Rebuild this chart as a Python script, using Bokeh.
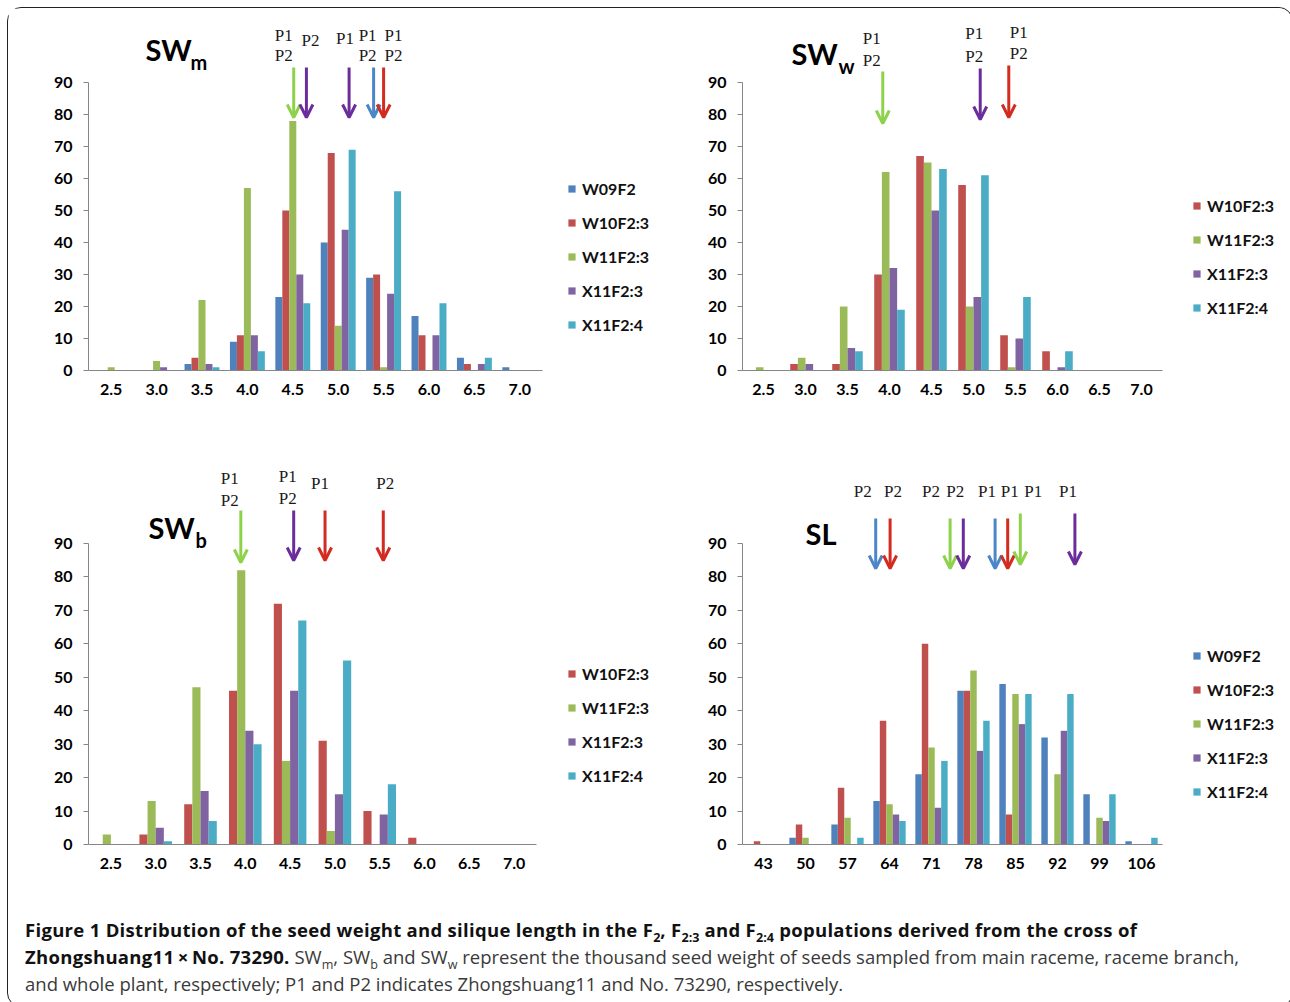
import numpy as np
from bokeh.plotting import figure
from bokeh.models import (Range1d, FixedTicker, Legend, LegendItem, Arrow, OpenHead,
                          Div, Label, ColumnDataSource)
from bokeh.layouts import row, column
from bokeh.embed import file_html
from bokeh.resources import INLINE
from bokeh.core.properties import value

# ------------------------------------------------------------------ data
weight_bins = ["2.5", "3.0", "3.5", "4.0", "4.5", "5.0", "5.5", "6.0", "6.5", "7.0"]
length_bins = ["43", "50", "57", "64", "71", "78", "85", "92", "99", "106"]

# SWm (main raceme)
swm_W09F2 = [0, 0, 2, 9, 23, 40, 29, 17, 4, 1]
swm_W10F23 = [0, 0, 4, 11, 50, 68, 30, 11, 2, 0]
swm_W11F23 = [1, 3, 22, 57, 78, 14, 1, 0, 0, 0]
swm_X11F23 = [0, 1, 2, 11, 30, 44, 24, 11, 2, 0]
swm_X11F24 = [0, 0, 1, 6, 21, 69, 56, 21, 4, 0]

# SWw (whole plant)
sww_W10F23 = [0, 2, 2, 30, 67, 58, 11, 6, 0, 0]
sww_W11F23 = [1, 4, 20, 62, 65, 20, 1, 0, 0, 0]
sww_X11F23 = [0, 2, 7, 32, 50, 23, 10, 1, 0, 0]
sww_X11F24 = [0, 0, 6, 19, 63, 61, 23, 6, 0, 0]

# SWb (raceme branch)
swb_W10F23 = [0, 3, 12, 46, 72, 31, 10, 2, 0, 0]
swb_W11F23 = [3, 13, 47, 82, 25, 4, 0, 0, 0, 0]
swb_X11F23 = [0, 5, 16, 34, 46, 15, 9, 0, 0, 0]
swb_X11F24 = [0, 1, 7, 30, 67, 55, 18, 0, 0, 0]

# SL (silique length)
sl_W09F2 = [0, 2, 6, 13, 21, 46, 48, 32, 15, 1]
sl_W10F23 = [1, 6, 17, 37, 60, 46, 9, 0, 0, 0]
sl_W11F23 = [0, 2, 8, 12, 29, 52, 45, 21, 8, 0]
sl_X11F23 = [0, 0, 0, 9, 11, 28, 36, 34, 7, 0]
sl_X11F24 = [0, 0, 2, 7, 25, 37, 45, 45, 15, 2]

# parental values (arrows): population, value, label
swm_parents_pop = ["W11F2:3", "X11F2:3", "X11F2:3", "W09F2", "W10F2:3"]
swm_parents_val = [4.51, 4.65, 5.12, 5.39, 5.50]
swm_parents_lab = ["P1\nP2", "P2", "P1", "P1\nP2", "P1\nP2"]

sww_parents_pop = ["W11F2:3", "X11F2:3", "W10F2:3"]
sww_parents_val = [3.92, 5.08, 5.42]
sww_parents_lab = ["P1\nP2", "P1\nP2", "P1\nP2"]

swb_parents_pop = ["W11F2:3", "X11F2:3", "W10F2:3", "W10F2:3"]
swb_parents_val = [3.95, 4.54, 4.89, 5.54]
swb_parents_lab = ["P1\nP2", "P1\nP2", "P1", "P2"]

sl_parents_pop = ["W09F2", "W10F2:3", "W11F2:3", "X11F2:3", "W09F2", "W10F2:3", "W11F2:3", "X11F2:3"]
sl_parents_val = [61.7, 64.1, 74.1, 76.3, 81.6, 83.7, 85.8, 94.9]
sl_parents_lab = ["P2", "P2", "P2", "P2", "P1", "P1", "P1", "P1"]

# ------------------------------------------------------------------ styles
BAR = {"W09F2": "#4F81BD", "W10F2:3": "#C0504D", "W11F2:3": "#9BBB59",
       "X11F2:3": "#8064A2", "X11F2:4": "#4BACC6"}
ARR = {"W09F2": "#4A86C8", "W10F2:3": "#D22B1F", "W11F2:3": "#8ED24C", "X11F2:3": "#6B2D9B"}
SANS = "Lato"
SERIF = "Liberation Serif"
AXIS_GRAY = "#868686"


def panel(cats, series, parents, geom, ytitle, xtitle, title, sub):
    fx, fy, fw, fh = geom["fig"]
    fl, fb = geom["frame_left"], geom["frame_bottom"]
    ncat = len(cats)
    pitch = geom["axis_w"] / ncat
    ppu = geom["px90"] / 90.0
    frame_w = fx + fw - fl
    frame_h = fb - fy
    p = figure(frame_width=frame_w, frame_height=frame_h,
               min_border_left=fl - fx, min_border_right=0, min_border_top=0,
               min_border_bottom=fy + fh - fb,
               x_range=Range1d(-0.5, -0.5 + frame_w / pitch),
               y_range=Range1d(0, frame_h / ppu),
               output_backend="svg", toolbar_location=None)

    def xd(px):
        return (px - fl) / pitch - 0.5

    def yd(py):
        return (fb - py) / ppu

    first = float(cats[0])
    step = float(cats[1]) - first

    def to_idx(v):
        return (v - first) / step

    # bars
    m = len(series)
    w = 1.0 / (m + 1.5)
    items = []
    for k, (name, vals) in enumerate(series):
        xs = np.arange(ncat) + (k - (m - 1) / 2.0) * w
        r = p.vbar(x=xs, top=vals, width=w, fill_color=BAR[name], line_color=None)
        items.append(LegendItem(label=name, renderers=[r]))

    lx, ly_last = geom["legend"]
    leg = Legend(items=items, location=(lx - fl, fb - (ly_last + 10)),
                 border_line_color=None, background_fill_alpha=0, padding=0, margin=0,
                 glyph_width=9, glyph_height=9, label_height=20, spacing=14,
                 label_standoff=6, label_text_font=SANS, label_text_font_style="bold",
                 label_text_font_size="16px", label_text_color="#111111")
    p.add_layout(leg)

    # parental arrows + labels
    pops, vals, labs = parents
    ann = geom["arrows"]
    lx_, ly_, lt_, lo_ = [], [], [], []
    for i, (pop, v, lab) in enumerate(zip(pops, vals, labs)):
        tail, tip, dx, lys = ann[i]
        col = ARR[pop]
        xi = to_idx(v)
        p.add_layout(Arrow(x_start=xi, y_start=yd(tail), x_end=xi, y_end=yd(tip),
                           line_color=col, line_width=3,
                           end=OpenHead(size=13, line_color=col, line_width=3)))
        for line, ly in zip(lab.split("\n"), lys):
            lx_.append(xi)
            ly_.append(yd(ly))
            lt_.append(line)
            lo_.append(dx)
    src = ColumnDataSource(dict(x=lx_, y=ly_, text=lt_, xo=lo_))
    p.text(x="x", y="y", text="text", x_offset="xo", source=src, text_align="center",
           text_baseline="middle", text_font=value(SERIF), text_font_size="17px",
           text_color="#1a1a1a")

    # panel title with subscript
    tx, ty = geom["title"]
    p.text(x=[xd(tx)], y=[yd(ty)], text=[title], text_font=value(SANS),
           text_font_style="bold", text_font_size="29px", text_baseline="middle",
           text_align="left", text_color="#000000")
    if sub:
        sx, sy = geom["sub"]
        p.text(x=[xd(sx)], y=[yd(sy)], text=[sub], text_font=value(SANS),
               text_font_style="bold", text_font_size="20px", text_baseline="middle",
               text_align="left", text_color="#000000")

    # axis titles
    (yx, yy), (xx, xy) = geom["ytitle"], geom["xtitle"]
    p.add_layout(Label(x=xd(yx), y=yd(yy), text=ytitle, angle=np.pi / 2,
                       text_align="center", text_baseline="middle", text_font=SANS,
                       text_font_style="bold", text_font_size="16px", text_color="#000000"))
    p.add_layout(Label(x=xd(xx), y=yd(xy), text=xtitle,
                       text_align="center", text_baseline="middle", text_font=SANS,
                       text_font_style="bold", text_font_size="16px", text_color="#000000"))

    # axes
    xa, ya = p.xaxis[0], p.yaxis[0]
    xa.ticker = FixedTicker(ticks=list(range(ncat)))
    xa.major_label_overrides = {i: c for i, c in enumerate(cats)}
    xa.bounds = (-0.5, ncat - 0.5)
    xa.major_tick_out = 0
    xa.major_tick_in = 0
    xa.major_tick_line_color = None
    xa.minor_tick_line_color = None
    xa.axis_line_color = AXIS_GRAY
    xa.major_label_standoff = 13
    ya.ticker = FixedTicker(ticks=list(range(0, 91, 10)))
    ya.bounds = (0, 90)
    ya.major_tick_out = 5
    ya.major_tick_in = 0
    ya.major_tick_line_color = AXIS_GRAY
    ya.minor_tick_line_color = None
    ya.axis_line_color = AXIS_GRAY
    ya.major_label_standoff = 11
    for ax in (xa, ya):
        ax.major_label_text_font = SANS
        ax.major_label_text_font_style = "bold"
        ax.major_label_text_font_size = "16px"
        ax.major_label_text_color = "#000000"
    p.grid.visible = False
    p.outline_line_color = None
    return p


p1 = panel(weight_bins,
           [("W09F2", swm_W09F2), ("W10F2:3", swm_W10F23), ("W11F2:3", swm_W11F23),
            ("X11F2:3", swm_X11F23), ("X11F2:4", swm_X11F24)],
           (swm_parents_pop, swm_parents_val, swm_parents_lab),
           dict(fig=(8, 8, 660, 447), frame_left=88, frame_bottom=370, axis_w=454, px90=288,
                legend=(567, 325),
                arrows=[(67, 117, -10, [35, 55]), (67, 117, 4, [40]), (67, 117, -4, [38]),
                        (67, 117, -6, [35, 55]), (67, 117, 10, [35, 55])],
                title=(145, 49), sub=(190, 61), ytitle=(38, 227), xtitle=(316, 422)),
           "No. of individuals/lines", "1000- seed weight (g)", "SW", "m")

p2 = panel(weight_bins,
           [("W10F2:3", sww_W10F23), ("W11F2:3", sww_W11F23),
            ("X11F2:3", sww_X11F23), ("X11F2:4", sww_X11F24)],
           (sww_parents_pop, sww_parents_val, sww_parents_lab),
           dict(fig=(668, 8, 614, 447), frame_left=742, frame_bottom=370, axis_w=420, px90=288,
                legend=(1192, 308),
                arrows=[(71, 123, -11, [38, 60]), (68, 119, -6, [33, 56]),
                        (65, 117, 10, [32, 53])],
                title=(791, 53), sub=(838, 65), ytitle=(692, 225), xtitle=(954, 422)),
           "No. of lines", "1000-seed weight (g)", "SW", "w")

p3 = panel(weight_bins,
           [("W10F2:3", swb_W10F23), ("W11F2:3", swb_W11F23),
            ("X11F2:3", swb_X11F23), ("X11F2:4", swb_X11F24)],
           (swb_parents_pop, swb_parents_val, swb_parents_lab),
           dict(fig=(8, 455, 660, 455), frame_left=88, frame_bottom=844, axis_w=448, px90=301,
                legend=(567, 776),
                arrows=[(510, 562, -11, [478, 500]), (510, 560, -6, [476, 498]),
                        (510, 560, -5, [483]), (510, 560, 2, [483])],
                title=(148, 527), sub=(195, 539), ytitle=(38, 693), xtitle=(313, 895)),
           "No. of lines", "1000-seed weight (g)", "SW", "b")

p4 = panel(length_bins,
           [("W09F2", sl_W09F2), ("W10F2:3", sl_W10F23), ("W11F2:3", sl_W11F23),
            ("X11F2:3", sl_X11F23), ("X11F2:4", sl_X11F24)],
           (sl_parents_pop, sl_parents_val, sl_parents_lab),
           dict(fig=(668, 455, 614, 455), frame_left=742, frame_bottom=844, axis_w=420, px90=301,
                legend=(1192, 792),
                arrows=[(518, 568, -13, [491]), (518, 568, 3, [491]), (518, 568, -19, [491]),
                        (518, 568, -8, [491]), (518, 568, -8, [491]), (518, 568, 2, [491]),
                        (513, 564, 13, [491]), (513, 564, -7, [491])],
                title=(805, 533), sub=None, ytitle=(692, 693), xtitle=(952, 895)),
           "No. of lines", "Silique length (mm)", "SL", None)

SUB = '<sub style="font-size:68%;line-height:0;letter-spacing:0">'
BOLD = '<b style="color:#111;letter-spacing:0.3px">'
caption_html = (
    '<div style="padding:1px 0 0 12px; white-space:nowrap; font-family:\'Open Sans\', sans-serif; '
    'font-size:18.5px; line-height:27px; color:#3a3a3a;">'
    + BOLD + 'Figure 1 Distribution of the seed weight and silique length in the '
    'F' + SUB + '2</sub>, F' + SUB + '2:3</sub> '
    'and F' + SUB + '2:4</sub> populations derived from the cross of</b><br>'
    + BOLD + 'Zhongshuang11\u2009\u00d7\u2009No. 73290.</b> '
    'SW' + SUB + 'm</sub>, SW' + SUB + 'b</sub> '
    'and SW' + SUB + 'w</sub> represent the thousand seed weight of seeds '
    'sampled from main raceme, raceme branch,<br>'
    'and whole plant, respectively; P1 and P2 indicates Zhongshuang11 and No. 73290, respectively.'
    '</div>'
)
cap = Div(text=caption_html, width=1274, height=86)

layout = column(row(p1, p2), row(p3, p4), cap,
                styles={"border": "1.5px solid #222222", "border-radius": "14px",
                        "margin": "6.5px 0 0 7px"})

with open("out.html", "w") as f:
    f.write(file_html(layout, INLINE, title="Figure 1"))
